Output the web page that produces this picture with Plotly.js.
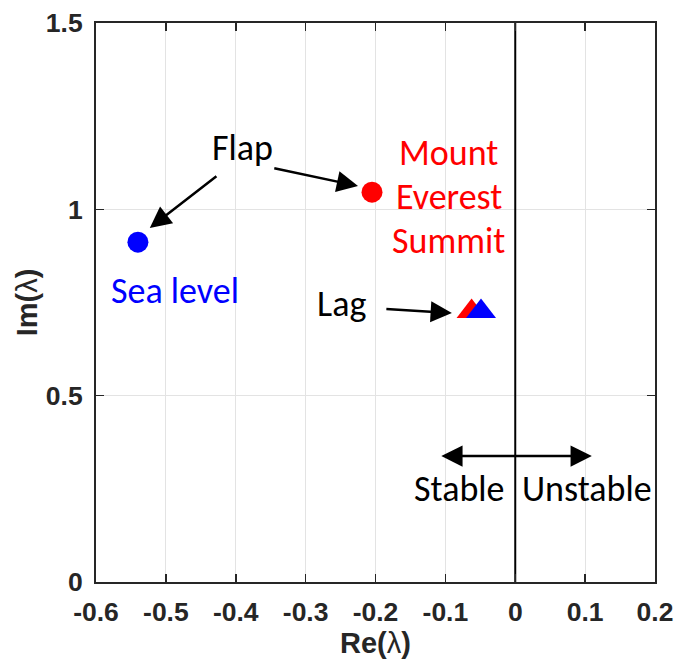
<!DOCTYPE html>
<html>
<head>
<meta charset="utf-8">
<script src="https://cdn.plot.ly/plotly-3.0.1.min.js"></script>
<style>html,body{margin:0;padding:0;background:#fff}#chart{width:690px;height:660px}</style>
</head>
<body>
<div id="chart"></div>
<script>
// Eigenvalues (Re, Im)
const flapSeaRe = [-0.540];
const flapSeaIm = [0.912];
const flapEverestRe = [-0.205];
const flapEverestIm = [1.046];
const lagEverestRe = [-0.0625];
const lagEverestIm = [0.726];
const lagSeaRe = [-0.049];
const lagSeaIm = [0.726];
const stabilityLineRe = [0, 0];
const stabilityLineIm = [0, 1.5];

const xTickVals = [-0.6, -0.5, -0.4, -0.3, -0.2, -0.1, 0, 0.1, 0.2];
const xTickText = ["-0.6", "-0.5", "-0.4", "-0.3", "-0.2", "-0.1", "0", "0.1", "0.2"];
const yTickVals = [0, 0.5, 1, 1.5];
const yTickText = ["0", "0.5", "1", "1.5"];

const textFont = "Carlito, 'Open Sans', sans-serif";
const axisFont = "'Liberation Sans', Arial, sans-serif";

const traces = [
  {x: stabilityLineRe, y: stabilityLineIm, mode: 'lines', line: {color: '#000', width: 2}, hoverinfo: 'skip'},
  {x: flapSeaRe, y: flapSeaIm, mode: 'markers', marker: {symbol: 'circle', size: 21, color: '#0000ff'}},
  {x: flapEverestRe, y: flapEverestIm, mode: 'markers', marker: {symbol: 'circle', size: 21, color: '#ff0000'}},
  {x: lagEverestRe, y: lagEverestIm, mode: 'markers', marker: {symbol: 'triangle-up', size: 26, color: '#ff0000'}},
  {x: lagSeaRe, y: lagSeaIm, mode: 'markers', marker: {symbol: 'triangle-up', size: 26, color: '#0000ff'}}
];

function txt(x, y, s, color) {
  return {x: x, y: y, xref: 'x', yref: 'y', text: s, showarrow: false,
          font: {family: textFont, size: 36, color: color}, xanchor: 'center', yanchor: 'middle'};
}
function arr(x0, y0, x1, y1, side) {
  return {x: x1, y: y1, ax: x0, ay: y0, xref: 'x', yref: 'y', axref: 'x', ayref: 'y',
          text: '', showarrow: true, arrowhead: 2, arrowsize: 1.7, arrowwidth: 2.5,
          arrowcolor: '#000', arrowside: side || 'end', standoff: 0, startstandoff: 0};
}

const annotations = [
  txt(-0.391, 1.1645, 'Flap', '#000'),
  arr(-0.4255, 1.092, -0.523, 0.950),
  arr(-0.347, 1.111, -0.225, 1.0625),
  txt(-0.095, 1.151, 'Mount', '#ff0000'),
  txt(-0.095, 1.033, 'Everest', '#ff0000'),
  txt(-0.095, 0.915, 'Summit', '#ff0000'),
  txt(-0.487, 0.781, 'Sea level', '#0000ff'),
  txt(-0.248, 0.746, 'Lag', '#000'),
  arr(-0.1866, 0.7325, -0.0907, 0.7218),
  arr(-0.108, 0.338, 0.1096, 0.338, 'end+start'),
  txt(-0.0793, 0.2495, 'Stable', '#000'),
  txt(0.1024, 0.2495, 'Unstable', '#000')
];

const layout = {
  width: 690, height: 660,
  margin: {l: 96, r: 35, t: 23, b: 78},
  paper_bgcolor: '#fff', plot_bgcolor: '#fff',
  showlegend: false,
  font: {family: axisFont, color: '#262626'},
  xaxis: {
    range: [-0.6, 0.2], tickvals: xTickVals, ticktext: xTickText,
    ticks: 'inside', ticklen: 8, tickwidth: 1.5, tickcolor: '#262626',
    showline: true, linecolor: '#262626', linewidth: 2, mirror: 'ticks',
    showgrid: true, gridcolor: '#e3e3e3', gridwidth: 1, zeroline: false,
    tickfont: {family: axisFont, size: 26.5, color: '#262626', weight: 'bold'},
    ticklabelstandoff: 5,
    title: {text: '<b>Re(</b>λ<b>)</b>', font: {family: axisFont, size: 29, color: '#262626'}, standoff: 4}
  },
  yaxis: {
    range: [0, 1.5], tickvals: yTickVals, ticktext: yTickText,
    ticks: 'inside', ticklen: 8, tickwidth: 1.5, tickcolor: '#262626',
    showline: true, linecolor: '#262626', linewidth: 2, mirror: 'ticks',
    showgrid: true, gridcolor: '#e3e3e3', gridwidth: 1, zeroline: false,
    tickfont: {family: axisFont, size: 26.5, color: '#262626', weight: 'bold'},
    ticklabelstandoff: 6,
    title: {text: '<b>Im(</b>λ<b>)</b>', font: {family: axisFont, size: 29, color: '#262626'}, standoff: 0}
  },
  annotations: annotations
};

Plotly.newPlot('chart', traces, layout, {displayModeBar: false, staticPlot: true});
</script>
</body>
</html>
